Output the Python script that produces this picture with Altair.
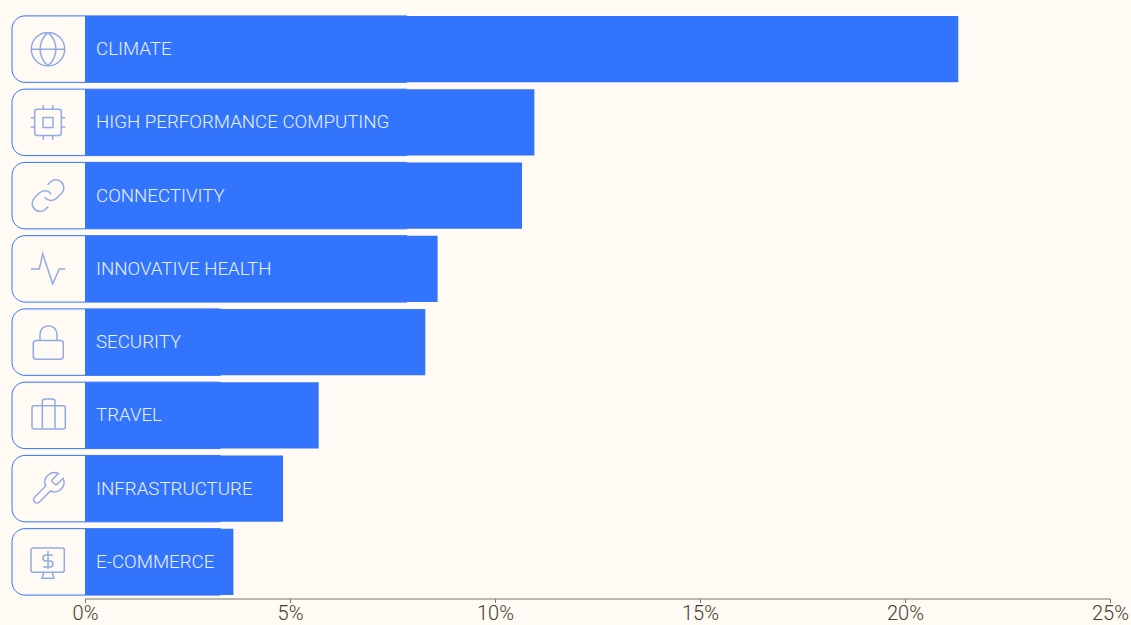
import altair as alt
import pandas as pd

categories = ["CLIMATE", "HIGH PERFORMANCE COMPUTING", "CONNECTIVITY", "INNOVATIVE HEALTH",
              "SECURITY", "TRAVEL", "INFRASTRUCTURE", "E-COMMERCE"]
shares = [21.3, 10.96, 10.66, 8.6, 8.3, 5.7, 4.83, 3.62]
tile_ends = [7.85, 7.85, 7.85, 7.85, 3.3, 3.3, 3.3, 3.3]

# Icon outlines, drawn in pixel units around each row's centre (symbol size 4 = scale 1).
icons = [
    "M-16.7,0A16.7,16.7 0 1 1 16.7,0A16.7,16.7 0 1 1 -16.7,0ZM-16.7,0L16.7,0M0,-16.7C-10.5,-7 -10.5,7 0,16.7C10.5,7 10.5,-7 0,-16.7Z",
    "M-10.8,-13.2L10.8,-13.2Q13.3,-13.2 13.3,-10.7L13.3,10.7Q13.3,13.2 10.8,13.2L-10.8,13.2Q-13.3,13.2 -13.3,10.7L-13.3,-10.7Q-13.3,-13.2 -10.8,-13.2Z"
    "M-5,-5L5,-5L5,5L-5,5Z"
    "M-4.7,-17.3L-4.7,-13.2M4.7,-17.3L4.7,-13.2M-4.7,13.2L-4.7,17.3M4.7,13.2L4.7,17.3"
    "M-17.3,-4.7L-13.3,-4.7M-17.3,4.7L-13.3,4.7M13.3,-4.7L17.3,-4.7M13.3,4.7L17.3,4.7",
    "M-3.2,1.6a8,8 0 0 0 12.06,0.86l4.8,-4.8a8,8 0 0 0 -11.31,-11.31l-2.75,2.74"
    "M3.2,-1.6a8,8 0 0 0 -12.06,-0.86l-4.8,4.8a8,8 0 0 0 11.31,11.31l2.74,-2.74",
    "M-17,0L-8.7,0L-5.3,-15L4.7,15L11.3,0L17.3,0",
    "M-11.7,-1.6L12.3,-1.6Q15.3,-1.6 15.3,1.4L15.3,14Q15.3,17 12.3,17L-11.7,17Q-14.7,17 -14.7,14L-14.7,1.4Q-14.7,-1.6 -11.7,-1.6Z"
    "M-8,-1.6L-8,-8A8.5,8.5 0 0 1 9,-8L9,-1.6",
    "M-14,-9.6L15.3,-9.6Q17.3,-9.6 17.3,-7.6L17.3,11.7Q17.3,13.7 15.3,13.7L-14,13.7Q-16,13.7 -16,11.7L-16,-7.6Q-16,-9.6 -14,-9.6Z"
    "M-5.7,13.7L-5.7,-13.8Q-5.7,-16.3 -3.2,-16.3L4.5,-16.3Q7,-16.3 7,-13.8L7,13.7",
    "M4.32,-9.12a1.6,1.6 0 0 0 0,2.24l2.56,2.56a1.6,1.6 0 0 0 2.24,0l6.03,-6.03a9.6,9.6 0 0 1 -12.7,12.7"
    "l-11.06,11.06a3.39,3.39 0 0 1 -4.8,-4.8l11.06,-11.06a9.6,9.6 0 0 1 12.7,-12.7l-6.02,6.02z",
    "M-15,-14L14.3,-14Q16.3,-14 16.3,-12L16.3,8.4Q16.3,10.4 14.3,10.4L-15,10.4Q-17,10.4 -17,8.4L-17,-12Q-17,-14 -15,-14Z"
    "M-4,10.4L-6,16.4M4,10.4L6,16.4M-7,16.4L6.5,16.4"
    "M0,-11L0,7M5,-7L-2,-7A3,3 0 0 0 -2,-1L2,-1A3,3 0 0 1 2,5L-5,5",
]

BACKGROUND = "#FFFAF3"
BAR_BLUE = "#3374FC"
ICON_BLUE = "#92ABE4"
INK = "#433B31"
FONT = "Roboto"

table = pd.DataFrame({
    "category": categories,
    "share": shares,
    "tile_end": tile_ends,
    "icon": icons,
})
table["tile_start"] = -1.78

x_scale = alt.Scale(domain=[0, 25], nice=False, zero=False)
y_enc = alt.Y(
    "category:N",
    sort=categories,
    axis=None,
    scale=alt.Scale(paddingInner=0.093, paddingOuter=0.0465),
)

base = alt.Chart(table).encode(y=y_enc)

tiles = base.mark_bar(
    fill=BACKGROUND,
    stroke=BAR_BLUE,
    strokeWidth=1,
    cornerRadiusTopLeft=13,
    cornerRadiusBottomLeft=13,
).encode(x=alt.X("tile_start:Q", scale=x_scale, title=None), x2="tile_end:Q")

bars = base.mark_bar(color=BAR_BLUE).encode(
    x=alt.X(
        "share:Q",
        scale=x_scale,
        title=None,
        axis=alt.Axis(
            values=[0, 5, 10, 15, 20, 25],
            labelExpr="datum.value + '%'",
            grid=False,
            domainColor="#7D7567",
            domainWidth=1,
            tickColor="#7D7567",
            tickSize=4,
            tickWidth=1,
            labelColor=INK,
            labelFont=FONT,
            labelFontWeight=300,
            labelFontSize=20,
            labelPadding=1,
            labelFlush=False,
        ),
    ),
)

glyphs = base.mark_point(
    filled=False, size=4, stroke=ICON_BLUE, strokeWidth=1.5, opacity=1
).encode(x=alt.value(-37), shape=alt.Shape("icon:N", scale=None, legend=None))

labels = base.mark_text(
    align="left", baseline="middle", color="#EAF0FF", font=FONT, fontWeight=300, fontSize=18.7
).encode(x=alt.value(11), text="category:N")

chart = (
    alt.layer(tiles, bars, glyphs, labels)
    .properties(
        width=1025,
        height=586,
        background=BACKGROUND,
        padding={"left": 85, "top": 12.5, "right": 21, "bottom": 26.5},
        autosize=alt.AutoSizeParams(type="none"),
    )
    .configure_view(stroke=None)
)

chart.save("out.html", embed_options={"renderer": "svg", "actions": False})
